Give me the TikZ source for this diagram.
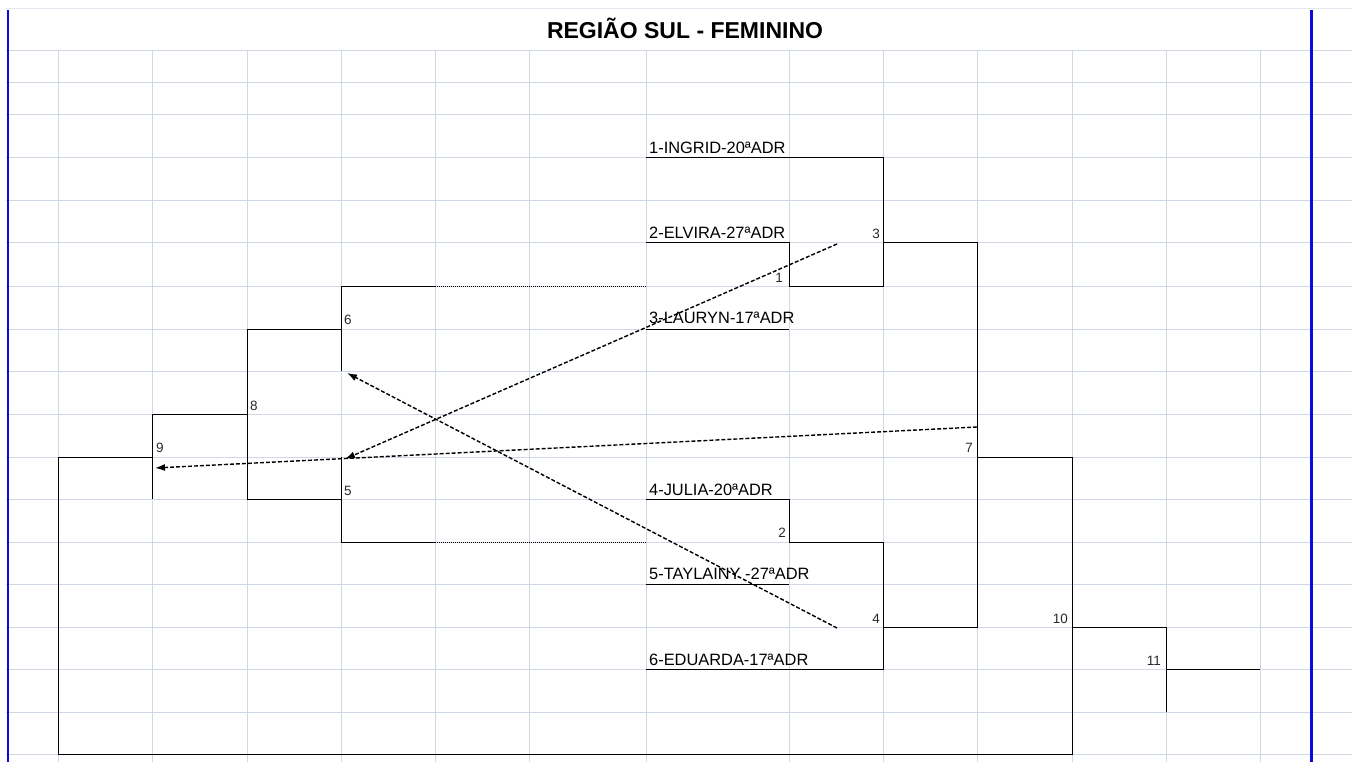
\documentclass[tikz,border=0pt]{standalone}
\usepackage{fontspec}
\setmainfont{Liberation Sans}
\usetikzlibrary{arrows.meta}
\definecolor{gridc}{HTML}{D0D7E5}
\definecolor{numc}{HTML}{2A2A2A}
\definecolor{xlblue}{HTML}{0A0ADC}
\begin{document}
\begin{tikzpicture}[x=1pt,y=-1pt,
  gridline/.style={gridc, line width=1pt},
  bline/.style={black, line width=1pt},
  hair/.style={black, line width=1pt, dash pattern=on 1pt off 1pt},
  darrow/.style={black, line width=1.4pt, dash pattern=on 4pt off 2pt, -{Latex[length=10pt,width=7pt]}},
  player/.style={anchor=base west, inner sep=0pt, font=\fontsize{16.4}{18}\selectfont},
  numl/.style={anchor=base west, inner sep=0pt, text=numc, font=\fontsize{13.5}{15}\selectfont},
  numr/.style={anchor=base east, inner sep=0pt, text=numc, font=\fontsize{13.5}{15}\selectfont},
]
\fill[white] (0,0) rectangle (1352,762);
\useasboundingbox (0,0) rectangle (1352,762);
% grid
\draw[gridc!60, line width=1pt] (6,9) -- (1352,9);
\foreach \y in {51,83,115,158,201,243,286,329,371,414,457,499,542,584,627,669,712,754}
  \draw[gridline] (6,\y) -- (1352,\y);
\foreach \x in {58,152,247,341,435,529,646,789,883,977,1072,1166,1260}
  \draw[gridline] (\x,51) -- (\x,762);
% blue page borders
\draw[xlblue, line width=1.6pt] (8,10) -- (8,762);
\draw[xlblue, line width=3pt] (1311,10) -- (1311,762);
% title
\node[anchor=base, inner sep=0pt, font=\bfseries\fontsize{23}{26}\selectfont] (title) at (685,39) {REGIÃO SUL - FEMININO};
% players
\node[player] (p1) at (649,154) {1-INGRID-20ªADR};
\node[player] (p2) at (649,239) {2-ELVIRA-27ªADR};
\node[player] (p3) at (649,323) {3-LAURYN-17ªADR};
\node[player] (p4) at (649,495) {4-JULIA-20ªADR};
\node[player] (p5) at (649,579) {5-TAYLAINY -27ªADR};
\node[player] (p6) at (649,665) {6-EDUARDA-17ªADR};
% bracket lines
\draw[bline] (646,158) -- (883,158) -- (883,286) -- (789,286) -- (789,243) -- (646,243);
\draw[bline] (883,243) -- (977,243) -- (977,627) -- (883,627);
\draw[bline] (646,329) -- (789,329);
\draw[bline] (646,499) -- (789,499) -- (789,542) -- (883,542) -- (883,669) -- (646,669);
\draw[bline] (646,584) -- (789,584);
\draw[bline] (435,286) -- (341,286) -- (341,371);
\draw[hair] (435,286) -- (646,286);
\draw[bline] (341,329) -- (247,329) -- (247,499) -- (341,499);
\draw[bline] (341,457) -- (341,542) -- (435,542);
\draw[hair] (435,542) -- (646,542);
\draw[bline] (247,414) -- (152,414) -- (152,499);
\draw[bline] (152,457) -- (58,457) -- (58,754) -- (1072,754) -- (1072,457) -- (977,457);
\draw[bline] (1072,627) -- (1166,627) -- (1166,712);
\draw[bline] (1166,669) -- (1260,669);
% match numbers
\node[numr] (n1) at (783,282) {1};
\node[numr] (n2) at (786,537) {2};
\node[numr] (n3) at (880,239) {3};
\node[numr] (n4) at (880,623) {4};
\node[numl] (n5) at (344,495) {5};
\node[numl] (n6) at (344,324) {6};
\node[numr] (n7) at (973,452) {7};
\node[numl] (n8) at (250,410) {8};
\node[numl] (n9) at (156,452) {9};
\node[numr] (n10) at (1068,623) {10};
\node[numr] (n11) at (1161,665) {11};
% dashed arrows
\coordinate (a1s) at (837,244); \coordinate (a1e) at (345,459);
\coordinate (a2s) at (977,427); \coordinate (a2e) at (155,468);
\coordinate (a3s) at (837,628); \coordinate (a3e) at (347,373);
\draw[darrow] (a1s) -- (a1e);
\draw[darrow] (a2s) -- (a2e);
\draw[darrow] (a3s) -- (a3e);
\end{tikzpicture}
\end{document}
